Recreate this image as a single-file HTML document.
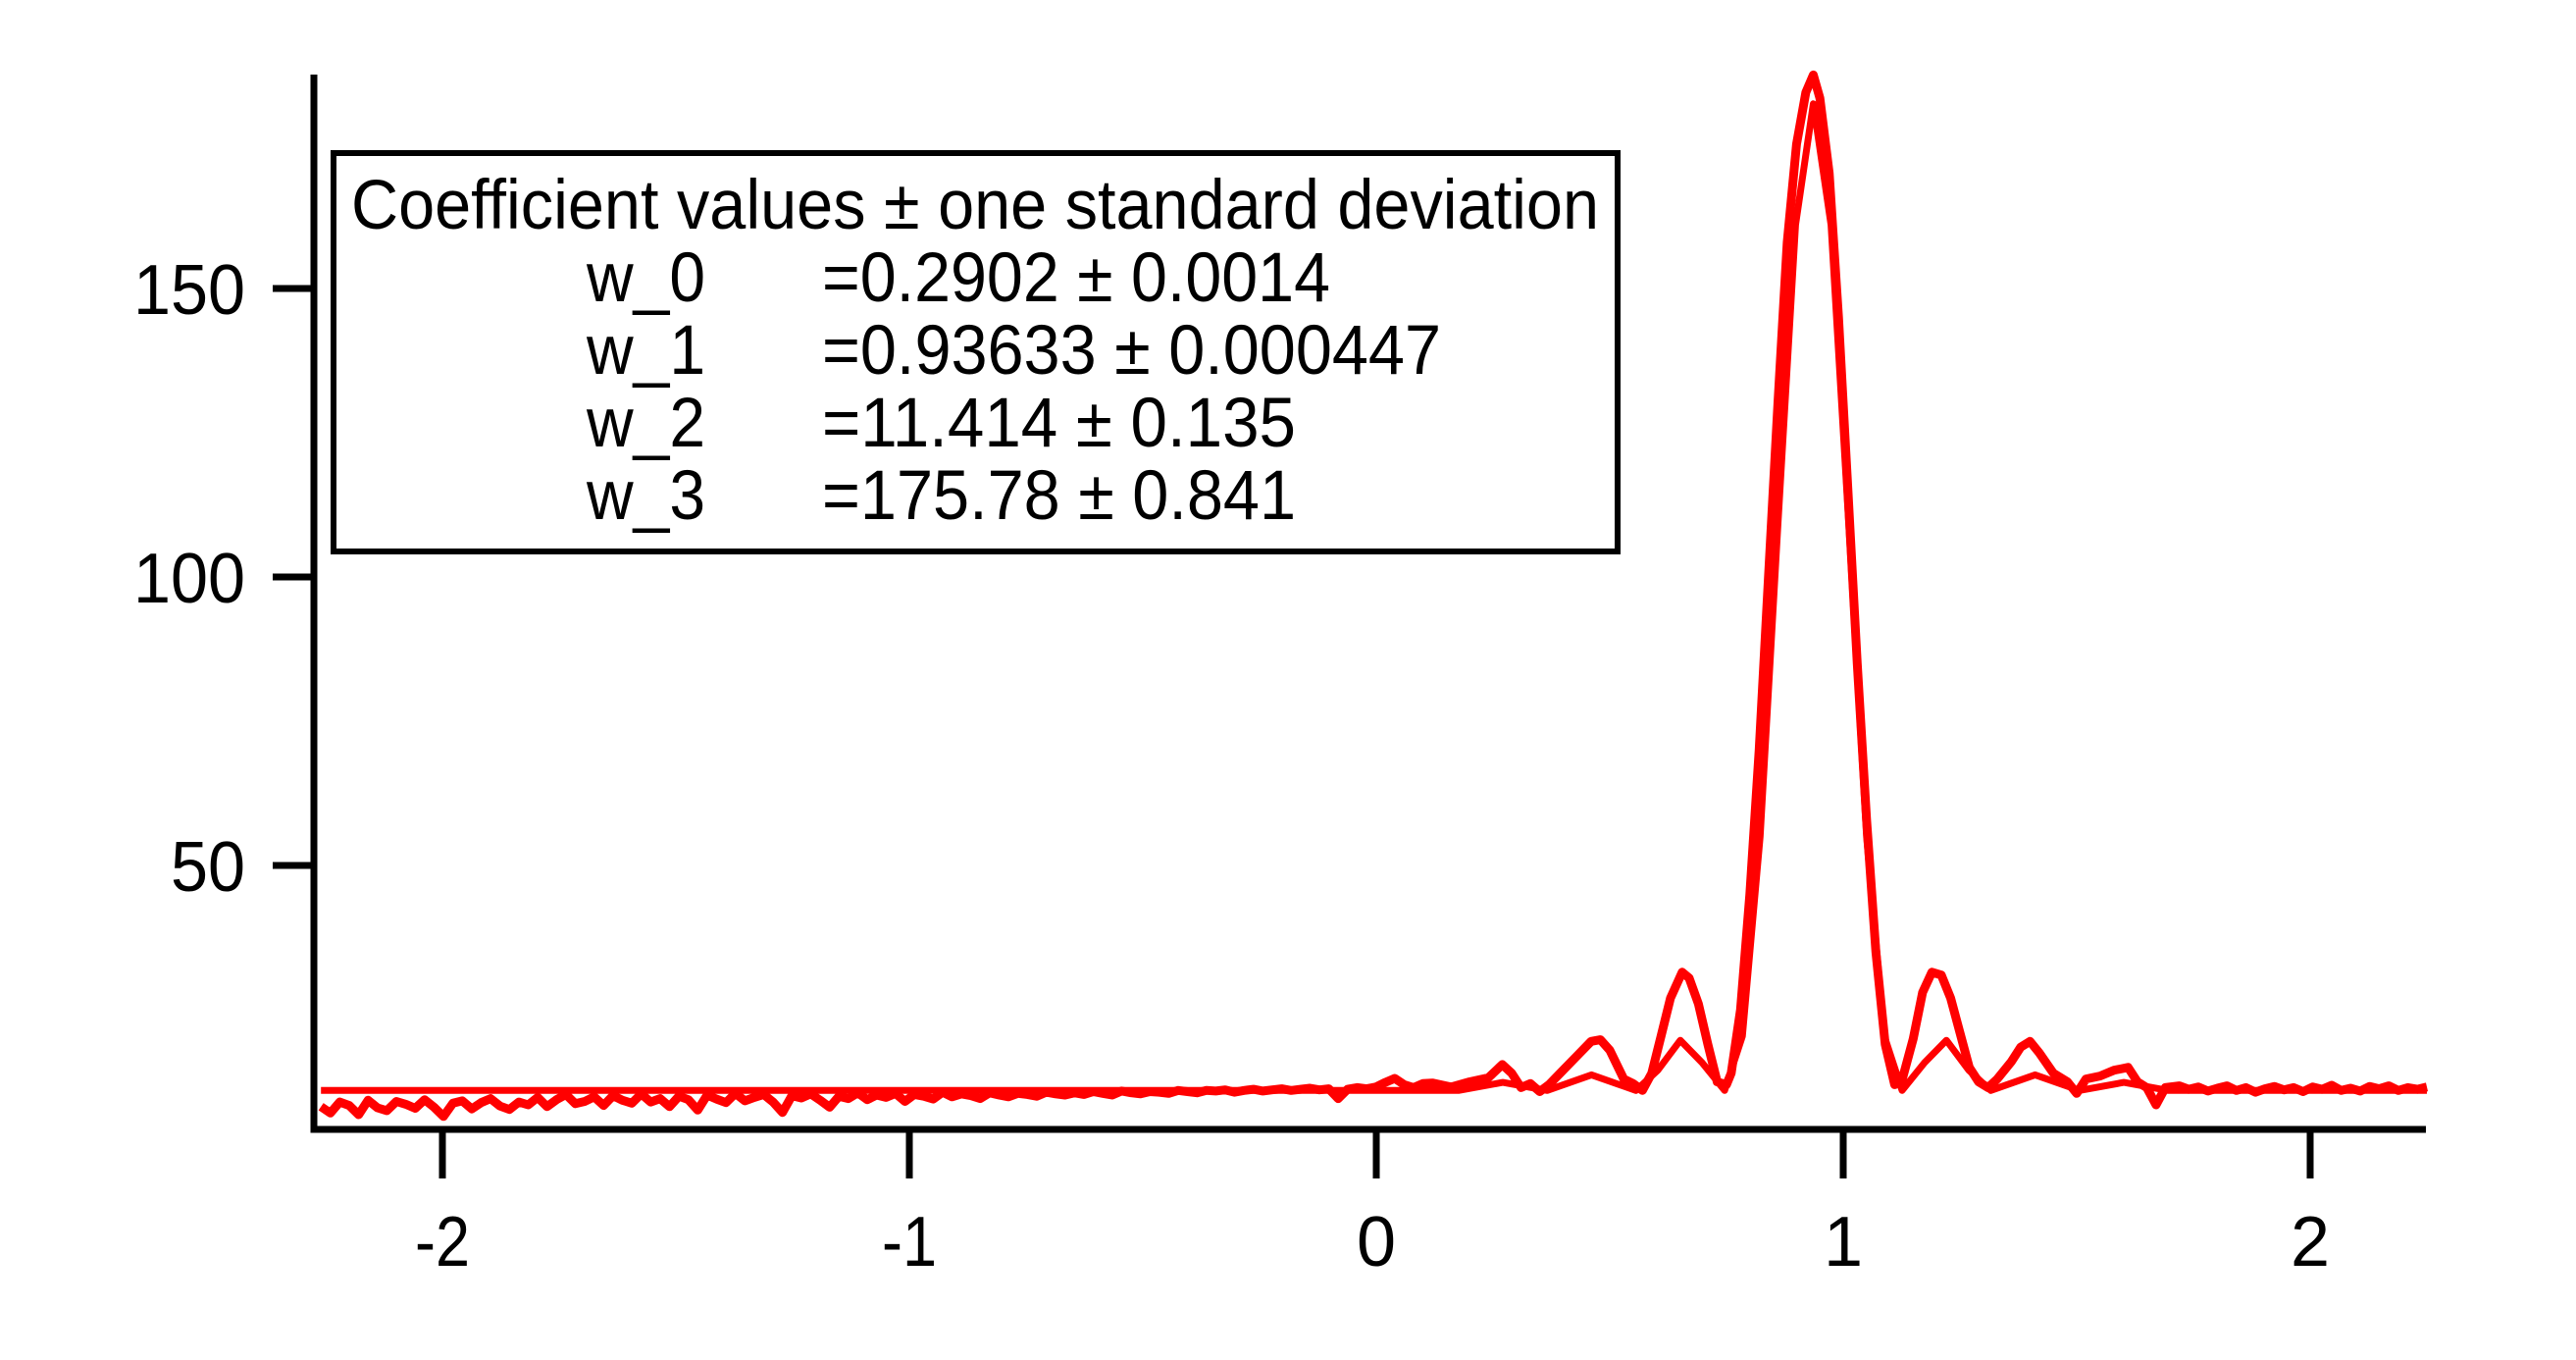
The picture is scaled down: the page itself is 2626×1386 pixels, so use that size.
<!DOCTYPE html>
<html><head><meta charset="utf-8"><style>
html,body{margin:0;padding:0;background:#fff;}
svg{display:block;}
text{font-family:"Liberation Sans",Arial,sans-serif;fill:#000;}
</style></head><body>
<svg id="chart" width="2626" height="1386" viewBox="0 0 2626 1386" xmlns="http://www.w3.org/2000/svg">
<g id="series"></g>
<g id="axes"></g>
<g>
<rect x="340" y="156" width="1309" height="406" fill="#fff" stroke="#000" stroke-width="6"/>
<text x="358" y="233" font-size="71" textLength="1272" lengthAdjust="spacingAndGlyphs">Coefficient values ± one standard deviation</text>
<text x="598" y="307" font-size="71" textLength="121" lengthAdjust="spacingAndGlyphs">w_0</text>
<text x="838" y="307" font-size="71" textLength="518" lengthAdjust="spacingAndGlyphs">=0.2902 ± 0.0014</text>
<text x="598" y="381" font-size="71" textLength="121" lengthAdjust="spacingAndGlyphs">w_1</text>
<text x="838" y="381" font-size="71" textLength="631" lengthAdjust="spacingAndGlyphs">=0.93633 ± 0.000447</text>
<text x="598" y="455" font-size="71" textLength="121" lengthAdjust="spacingAndGlyphs">w_2</text>
<text x="838" y="455" font-size="71" textLength="483" lengthAdjust="spacingAndGlyphs">=11.414 ± 0.135</text>
<text x="598" y="529" font-size="71" textLength="121" lengthAdjust="spacingAndGlyphs">w_3</text>
<text x="838" y="529" font-size="71" textLength="483" lengthAdjust="spacingAndGlyphs">=175.78 ± 0.841</text>
</g>
</svg>
<script>
const xTicks = [-2, -1, 0, 1, 2];
const yTicks = [50, 100, 150];
const noiseLeftY = [8.2,7.1,9.0,8.4,6.8,9.3,8.0,7.5,9.1,8.6,7.9,9.4,8.1,6.5,8.8,9.2,7.8,8.9,9.6,8.3,7.7,9.0,8.5,9.8,8.2,9.4,10.3,8.7,9.1,9.9,8.4,10.1,9.3,8.8,10.4,9.0,9.6,8.2,10.0,9.4,7.6,10.2,9.5,8.9,10.5,9.2,9.8,10.3,9.0,7.2,10.1,9.7,10.4,9.3,8.1,10.0,9.6,10.6,9.4,10.2,9.8,10.5,9.1,10.3,10.0,9.5,10.7,9.9,10.4,10.1,9.6,10.6,10.2,9.9,10.5,10.3,10.0,10.7,10.4,10.2,10.6,10.3,10.8,10.5,10.2,10.9,10.6,10.4,10.8,10.7,10.5,11.0,10.8,10.6,11.0,10.9,11.1,10.7,11.0,11.2,10.9,11.1,11.3,11.0,11.2,11.4,11.1,11.3,9.6,11.2,11.5,11.3,11.6,12.4,13.1,12.0,11.5,12.2];
const noiseLeftStart = -2.26, noiseLeftEnd = 0.10;
const peakX = [0.12,0.16,0.2,0.24,0.27,0.29,0.31,0.33,0.35,0.37,0.40,0.43,0.46,0.48,0.50,0.53,0.55,0.57,0.59,0.61,0.63,0.655,0.67,0.69,0.71,0.73,0.75,0.76,0.78,0.80,0.82,0.84,0.86,0.88,0.90,0.92,0.936,0.95,0.97,0.99,1.01,1.03,1.05,1.07,1.09,1.11,1.125,1.15,1.17,1.19,1.21,1.23,1.25,1.27,1.29,1.31,1.33,1.36,1.38,1.40,1.42,1.45,1.48,1.50,1.52,1.55,1.58,1.61,1.63,1.65,1.67,1.69,1.72];
const peakY = [12.3,11.6,12.5,13.2,15.5,14.0,11.5,12.2,10.8,12.0,14.5,17.0,19.5,19.8,18.0,13.0,12.2,11.0,14.0,20.5,27,31.5,30.5,26,19,12.5,12.0,14,25,45,70,100,130,158,175,184,187,183,170,145,115,85,58,35,19,12,12.5,20,28,31.5,31,27,21,15,12.5,11.5,13,16,18.5,19.5,17.5,14,12.5,10.5,13,13.5,14.5,15,12.5,11.5,8.5,11.5,11.8];
const noiseRightY = [11.2,11.6,10.9,11.4,11.8,11.0,11.5,10.7,11.3,11.7,11.1,11.5,10.8,11.6,11.2,11.9,11.0,11.4,10.9,11.7,11.3,11.8,11.0,11.5,11.2,11.6];
const noiseRightStart = 1.74, noiseRightEnd = 2.25;
const fitX = [-2.26,0.176,0.271,0.366,0.461,0.556,0.603,0.651,0.698,0.746,0.784,0.822,0.86,0.898,0.936,0.974,1.012,1.05,1.088,1.126,1.174,1.221,1.269,1.316,1.411,1.506,1.601,1.696,2.25];
const fitY = [11,11,12.4,11,13.7,11,14.5,19.7,15.8,11,20.4,55,109,161,182,161,109,55,20.4,11,15.8,19.7,14.5,11,13.7,11,12.4,11,11];

const NS = 'http://www.w3.org/2000/svg';
const X0 = 1403, XU = 476, Y0 = 1176, YU = 5.88;
const AX_L = 320, AX_R = 2473, AX_T = 76, AX_B = 1151;
function xs(v){ return X0 + v*XU; }
function ys(v){ return Y0 - v*YU; }
const series = document.getElementById('series');
const axes = document.getElementById('axes');

function pathFrom(xArr, yArr){
  let d = '';
  for (let i=0;i<xArr.length;i++) d += (i?'L':'M') + xs(xArr[i]).toFixed(1) + ' ' + ys(yArr[i]).toFixed(1);
  return d;
}
const dX = [], dY = [];
for (let i=0;i<noiseLeftY.length;i++){ dX.push(noiseLeftStart + (noiseLeftEnd-noiseLeftStart)*i/(noiseLeftY.length-1)); dY.push(noiseLeftY[i]); }
for (let i=0;i<peakX.length;i++){ dX.push(peakX[i]); dY.push(peakY[i]); }
for (let i=0;i<noiseRightY.length;i++){ dX.push(noiseRightStart + (noiseRightEnd-noiseRightStart)*i/(noiseRightY.length-1)); dY.push(noiseRightY[i]); }

const fitPath = document.createElementNS(NS,'path');
fitPath.setAttribute('d', pathFrom(fitX, fitY));
fitPath.setAttribute('fill','none'); fitPath.setAttribute('stroke','#ff0000'); fitPath.setAttribute('stroke-width','7'); fitPath.setAttribute('stroke-linejoin','round');


series.appendChild(fitPath);

const dataPath = document.createElementNS(NS,'path');
dataPath.setAttribute('d', pathFrom(dX, dY));
dataPath.setAttribute('fill','none'); dataPath.setAttribute('stroke','#ff0000'); dataPath.setAttribute('stroke-width','9'); dataPath.setAttribute('stroke-linejoin','round');


series.appendChild(dataPath);

function line(x1,y1,x2,y2,name){
  const l = document.createElementNS(NS,'line');
  l.setAttribute('x1',x1); l.setAttribute('y1',y1); l.setAttribute('x2',x2); l.setAttribute('y2',y2);
  l.setAttribute('stroke','#000'); l.setAttribute('stroke-width','7');
  
  
  axes.appendChild(l);
}
function label(x,y,txt,anchor,w,name){
  const t = document.createElementNS(NS,'text');
  t.setAttribute('x',x); t.setAttribute('y',y); t.setAttribute('font-size','72'); t.setAttribute('text-anchor',anchor);
  if (w) { t.setAttribute('textLength', w); t.setAttribute('lengthAdjust','spacingAndGlyphs'); }
  t.textContent = txt;
  
  
  axes.appendChild(t);
}
line(AX_L, AX_T, AX_L, AX_B+3.5, 'y-axis');
line(AX_L-3.5, AX_B, AX_R, AX_B, 'x-axis');
xTicks.forEach(v=>{
  line(xs(v), AX_B, xs(v), AX_B+50, 'x-tick');
  const s = String(v);
  label(xs(v), 1290, s, 'middle', s.length > 1 ? 56 : 0, 'x-tick-label');
});
yTicks.forEach(v=>{
  line(AX_L-42, ys(v), AX_L, ys(v), 'y-tick');
  const s = String(v);
  label(250, ys(v)+26, s, 'end', s.length * 38, 'y-tick-label');
});
</script>
</body></html>
